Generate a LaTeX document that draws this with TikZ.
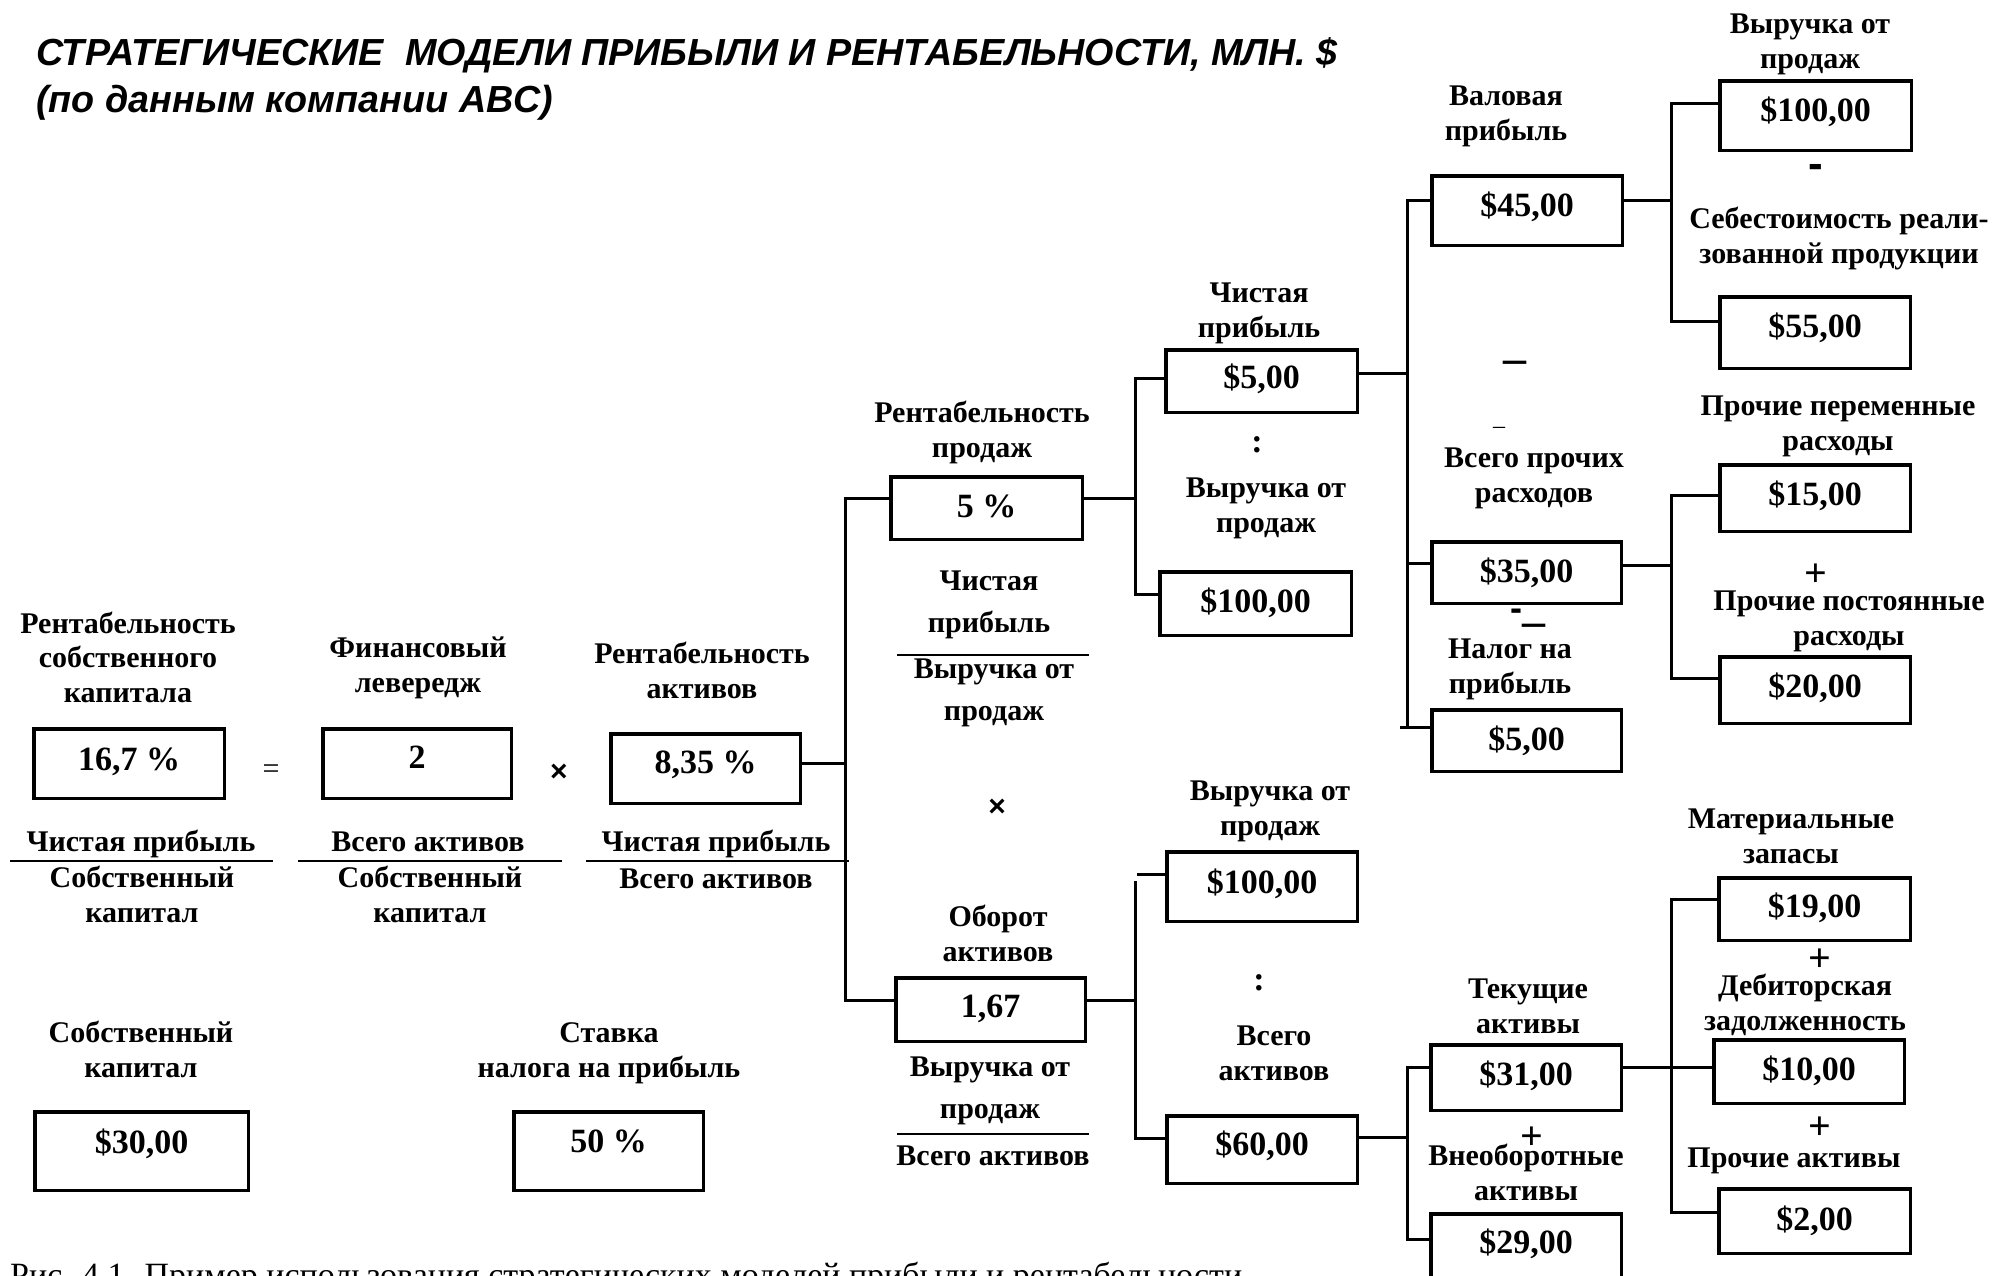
\documentclass[tikz,border=0pt]{standalone}
\usepackage{fontspec}
\setmainfont{Liberation Serif}
\newfontfamily\sansfam{Liberation Sans}
\begin{document}
\begin{tikzpicture}[x=1pt,y=-1pt,
  conn/.style={line width=3pt, line cap=rect},
  fracline/.style={line width=2.6pt},
  valbox/.style={draw, line width=3.5pt, inner sep=0pt, text height=23pt,
    font=\bfseries\fontsize{34}{40}\selectfont},
  vb/.style n args={3}{valbox, minimum width=#1, minimum height=#2, text depth=#3},
  % labels are placed by the baseline of their last line
  lbl/.style={align=center, inner sep=0pt, anchor=base,
    font=\bfseries\fontsize{30}{34.5}\selectfont},
  widelbl/.style={lbl, font=\bfseries\fontsize{30}{42}\selectfont},
  sym/.style={inner sep=0pt, font=\bfseries\fontsize{34}{34}\selectfont},
  plus/.style={inner sep=0pt, font=\bfseries\fontsize{40}{40}\selectfont},
  timessign/.style={inner sep=0pt, font=\sansfam\bfseries\fontsize{30}{30}\selectfont},
  title/.style={align=left, inner sep=0pt, anchor=base west,
    font=\sansfam\bfseries\itshape\fontsize{37.7}{47}\selectfont}
]
\useasboundingbox (0,0) rectangle (1993,1275);
\clip (0,0) rectangle (1993,1275);

% heading
\node[title] (title) at (36,112)
  {СТРАТЕГИЧЕСКИЕ\ \ МОДЕЛИ ПРИБЫЛИ И РЕНТАБЕЛЬНОСТИ, МЛН. \$\\(по данным компании ABC)};

% ---------- left block: ROE = leverage x ROA ----------
\node[lbl] (roeL) at (128,702) {Рентабельность\\собственного\\капитала};
\node[vb={190.5pt}{69.5pt}{10pt}] (roe) at (129,763.5) {16,7 \%};
\node[inner sep=0pt, font=\fontsize{30}{30}\selectfont] (eqsign) at (271,772) {=};
\node[lbl] (levL) at (418,692) {Финансовый\\левередж};
\node[vb={188.5pt}{69.5pt}{14pt}] (lev) at (417,763.5) {2};
\node[timessign] (times1) at (559,773) {×};
\node[lbl] (roaL) at (702,698) {Рентабельность\\активов};
\node[vb={189.5pt}{69.5pt}{14pt}] (roa) at (705.5,768.5) {8,35 \%};

% fractions under the left block
\node[lbl] (f1n) at (141,851) {Чистая прибыль};
\node[lbl] (f1d) at (142,922) {Собственный\\капитал};
\node[lbl] (f2n) at (428,851) {Всего активов};
\node[lbl] (f2d) at (430,922) {Собственный\\капитал};
\node[lbl] (f3n) at (716,851) {Чистая прибыль};
\node[lbl] (f3d) at (716,888) {Всего активов};
\coordinate (f1a) at (10,861);  \coordinate (f1b) at (273,861);
\coordinate (f2a) at (298,861); \coordinate (f2b) at (562,861);
\coordinate (f3a) at (586,861); \coordinate (f3b) at (849,861);
\draw[fracline] (f1a) -- (f1b);
\draw[fracline] (f2a) -- (f2b);
\draw[fracline] (f3a) -- (f3b);

% equity and tax rate
\node[lbl] (eqL) at (141,1077) {Собственный\\капитал};
\node[vb={213.5pt}{78.5pt}{19pt}] (eq) at (141.5,1151) {\$30,00};
\node[lbl] (taxL) at (609,1077) {Ставка\\налога на прибыль};
\node[vb={189.5pt}{78.5pt}{21pt}] (tax) at (608.5,1151) {50 \%};

% ---------- second level ----------
\node[lbl] (rosL) at (982,457) {Рентабельность\\продаж};
\node[vb={191.5pt}{62.5pt}{5pt}] (ros) at (986.5,508) {5 \%};
\node[widelbl] (rosN) at (989,632) {Чистая\\прибыль};
\coordinate (f4a) at (897,655); \coordinate (f4b) at (1089,655);
\draw[fracline] (f4a) -- (f4b);
\node[widelbl] (rosD) at (994,720) {Выручка от\\продаж};
\node[timessign] (times2) at (997,808) {×};
\node[lbl] (turnL) at (998,961) {Оборот\\активов};
\node[vb={189.5pt}{63.5pt}{8pt}] (turn) at (990.5,1009.5) {1,67};
\node[widelbl] (turnN) at (990,1118) {Выручка от\\продаж};
\coordinate (f5a) at (897,1134); \coordinate (f5b) at (1089,1134);
\draw[fracline] (f5a) -- (f5b);
\node[lbl] (turnD) at (993,1165) {Всего активов};

% ---------- third level ----------
\node[lbl] (npL) at (1259,337) {Чистая\\прибыль};
\node[vb={191.5pt}{62.5pt}{9pt}] (np) at (1261.5,381) {\$5,00};
\node[sym] (div1) at (1257,445) {:};
\node[lbl] (rev1L) at (1266,532) {Выручка от\\продаж};
\node[vb={191.5pt}{63.5pt}{6pt}] (rev1) at (1255.5,603.5) {\$100,00};
\node[lbl] (rev2L) at (1270,835) {Выручка от\\продаж};
\node[vb={190.5pt}{69.5pt}{10pt}] (rev2) at (1262,886.5) {\$100,00};
\node[sym] (div2) at (1259,983) {:};
\node[lbl] (taL) at (1274,1080) {Всего\\активов};
\node[vb={190.5pt}{67.5pt}{12pt}] (ta) at (1262,1149.5) {\$60,00};

% ---------- fourth level ----------
\node[lbl] (gpL) at (1506,140) {Валовая\\прибыль};
\node[vb={190.5pt}{69.5pt}{12pt}] (gp) at (1527,210.5) {\$45,00};
\node[inner sep=0pt, font=\bfseries\fontsize{46}{46}\selectfont] (minus2) at (1515,367) {–};
\node[inner sep=0pt, font=\fontsize{24}{24}\selectfont] (minus3) at (1499,430) {–};
\node[lbl] (opexL) at (1534,502) {Всего прочих\\расходов};
\node[vb={189.5pt}{61.5pt}{4pt}] (opex) at (1526.5,572.5) {\$35,00};
\node[inner sep=0pt, font=\sansfam\bfseries\fontsize{36}{36}\selectfont] (minus4) at (1516,615) {-};
\node[inner sep=0pt, font=\bfseries\fontsize{46}{46}\selectfont] (minus5) at (1534,630) {–};
\node[lbl] (taxvL) at (1510,693) {Налог на\\прибыль};
\node[vb={189.5pt}{61.5pt}{4pt}] (taxv) at (1526.5,740.5) {\$5,00};
\node[lbl] (caL) at (1528,1033) {Текущие\\активы};
\node[vb={190.5pt}{65.5pt}{8pt}] (ca) at (1526,1077.5) {\$31,00};
\node[plus] (plus4) at (1532,1138) {+};
\node[lbl] (ncaL) at (1526,1200) {Внеоборотные\\активы};
\node[vb={190.5pt}{66.5pt}{11pt}] (nca) at (1526,1247) {\$29,00};

% ---------- fifth level ----------
\node[lbl] (salesL) at (1810,68) {Выручка от\\продаж};
\node[vb={191.5pt}{69.5pt}{12pt}] (sales) at (1815.5,115.5) {\$100,00};
\node[inner sep=0pt, font=\sansfam\bfseries\fontsize{44}{44}\selectfont] (minus1) at (1816,171) {-};
\node[lbl] (cogsL) at (1839,263) {Себестоимость реали-\\зованной продукции};
\node[vb={190.5pt}{71.5pt}{14pt}] (cogs) at (1815,332.5) {\$55,00};
\node[lbl] (varL) at (1838,450) {Прочие переменные\\расходы};
\node[vb={190.5pt}{66.5pt}{9pt}] (var) at (1815,498) {\$15,00};
\node[plus] (plus1) at (1816,575) {+};
\node[lbl] (fixL) at (1849,645) {Прочие постоянные\\расходы};
\node[vb={190.5pt}{66.5pt}{9pt}] (fix) at (1815,690) {\$20,00};
\node[lbl] (invL) at (1791,863) {Материальные\\запасы};
\node[vb={191.5pt}{62.5pt}{7pt}] (inv) at (1814.5,909) {\$19,00};
\node[plus] (plus2) at (1820,960) {+};
\node[lbl] (recL) at (1805,1030) {Дебиторская\\задолженность};
\node[vb={190.5pt}{63.5pt}{6pt}] (rec) at (1809,1071.5) {\$10,00};
\node[plus] (plus3) at (1820,1128) {+};
\node[lbl] (othL) at (1794,1167) {Прочие активы};
\node[vb={191.5pt}{64.5pt}{5pt}] (oth) at (1814.5,1221) {\$2,00};

% ---------- connectors ----------
% ROA -> sales margin / asset turnover
\coordinate (t1a) at (845,498); \coordinate (t1m) at (845,763); \coordinate (t1b) at (845,1000);
\draw[conn] (t1a) -- (t1b);
\draw[conn] (roa.east |- t1m) -- (t1m);
\draw[conn] (t1a) -- (ros.west |- t1a);
\draw[conn] (t1b) -- (turn.west |- t1b);
% sales margin -> net profit / revenue
\coordinate (t2a) at (1135,378); \coordinate (t2m) at (1135,498); \coordinate (t2b) at (1135,594);
\draw[conn] (t2a) -- (t2b);
\draw[conn] (ros.east |- t2m) -- (t2m);
\draw[conn] (t2a) -- (np.west |- t2a);
\draw[conn] (t2b) -- (rev1.west |- t2b);
% asset turnover -> revenue / total assets
\coordinate (t3s) at (1138,874);
\coordinate (t3a) at (1135,882); \coordinate (t3m) at (1135,1000); \coordinate (t3b) at (1135,1138);
\draw[conn] (t3a) -- (t3b);
\draw[conn] (turn.east |- t3m) -- (t3m);
\draw[conn] (t3s) -- (rev2.west |- t3s);
\draw[conn] (t3b) -- (ta.west |- t3b);
% net profit -> gross profit / other expenses / tax
\coordinate (t4a) at (1407,200); \coordinate (t4m) at (1407,373);
\coordinate (t4c) at (1407,563); \coordinate (t4b) at (1407,727);
\coordinate (t4s) at (1401,727);
\draw[conn] (t4a) -- (t4b);
\draw[conn] (np.east |- t4m) -- (t4m);
\draw[conn] (t4a) -- (gp.west |- t4a);
\draw[conn] (t4c) -- (opex.west |- t4c);
\draw[conn] (t4s) -- (taxv.west |- t4s);
% total assets -> current / non-current
\coordinate (t5a) at (1407,1067); \coordinate (t5m) at (1407,1137); \coordinate (t5b) at (1407,1239);
\draw[conn] (t5a) -- (t5b);
\draw[conn] (ta.east |- t5m) -- (t5m);
\draw[conn] (t5a) -- (ca.west |- t5a);
\draw[conn] (t5b) -- (nca.west |- t5b);
% gross profit -> revenue / cost of goods sold
\coordinate (t6a) at (1671,103); \coordinate (t6m) at (1671,200); \coordinate (t6b) at (1671,321);
\draw[conn] (t6a) -- (t6b);
\draw[conn] (gp.east |- t6m) -- (t6m);
\draw[conn] (t6a) -- (sales.west |- t6a);
\draw[conn] (t6b) -- (cogs.west |- t6b);
% other expenses -> variable / fixed
\coordinate (t7a) at (1671,495); \coordinate (t7m) at (1671,565); \coordinate (t7b) at (1671,678);
\draw[conn] (t7a) -- (t7b);
\draw[conn] (opex.east |- t7m) -- (t7m);
\draw[conn] (t7a) -- (var.west |- t7a);
\draw[conn] (t7b) -- (fix.west |- t7b);
% current assets -> inventory / receivables / other
\coordinate (t8a) at (1671,899); \coordinate (t8m) at (1671,1067); \coordinate (t8b) at (1671,1212);
\draw[conn] (t8a) -- (t8b);
\draw[conn] (ca.east |- t8m) -- (rec.west |- t8m);
\draw[conn] (t8a) -- (inv.west |- t8a);
\draw[conn] (t8b) -- (oth.west |- t8b);

% figure caption
\node[inner sep=0pt, anchor=base west, font=\fontsize{34}{40}\selectfont] (caption) at (10,1286)
  {Рис. 4.1. Пример использования стратегических моделей прибыли и рентабельности};
\end{tikzpicture}
\end{document}
